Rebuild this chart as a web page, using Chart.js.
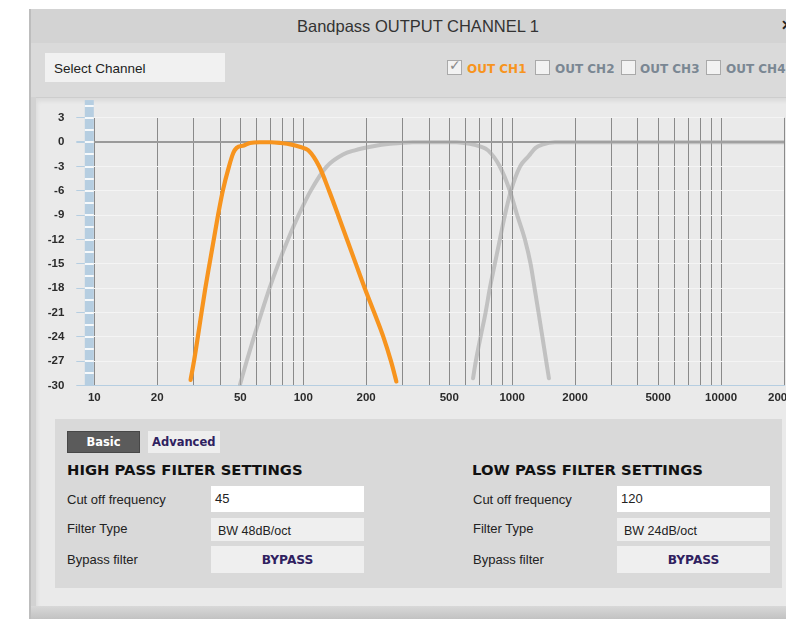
<!DOCTYPE html>
<html><head><meta charset="utf-8">
<script src="https://cdn.jsdelivr.net/npm/chart.js@4/dist/chart.umd.min.js"></script>
<style>
html,body{margin:0;padding:0;width:786px;height:620px;overflow:hidden;background:#fff;font-family:"Liberation Sans",Arial,sans-serif;}
.a{position:absolute;box-sizing:border-box;}
.lbl{font-size:13px;color:#222;}
.box{background:#efefef;font-size:12.5px;color:#222;}
.hd{font-family:"DejaVu Sans",sans-serif;font-weight:bold;font-size:14.8px;color:#111;}
.bp{font-family:"DejaVu Sans",sans-serif;font-weight:bold;font-size:12.2px;color:#2f2160;text-align:center;}
.cb{width:15px;height:15px;border:1px solid #a9a9a9;background:#f2f2f2;}
.cl{font-family:"DejaVu Sans",sans-serif;font-weight:bold;font-size:12px;color:#7a8793;}
</style></head>
<body>
<div class="a" style="left:29px;top:9px;width:800px;height:610px;background:#d2d2d2;border-left:2px solid #bdbdbd;"></div>
<div class="a" style="left:31px;top:9px;width:800px;height:34px;background:#d3d3d3;"></div>
<div class="a" style="left:218px;top:9px;width:400px;height:34px;line-height:34px;text-align:center;font-size:16.5px;color:#333;">Bandpass OUTPUT CHANNEL 1</div>
<div class="a" style="left:781px;top:17px;font-size:14px;font-weight:bold;color:#222;">✕</div>
<div class="a" style="left:31px;top:43px;width:800px;height:54px;background:#dadada;"></div>
<div class="a" style="left:45px;top:53px;width:180px;height:29px;background:#f1f1f1;line-height:32px;padding-left:9px;font-size:13.5px;color:#222;">Select Channel</div>

<div class="a cb" style="left:447px;top:60px;"></div>
<div class="a" style="left:449px;top:57px;font-size:14px;color:#8a8a8a;font-family:'DejaVu Sans';">✓</div>
<div class="a cl" style="left:467px;top:62px;color:#f7941e;">OUT CH1</div>
<div class="a cb" style="left:535px;top:60px;"></div>
<div class="a cl" style="left:555px;top:62px;">OUT CH2</div>
<div class="a cb" style="left:621px;top:60px;"></div>
<div class="a cl" style="left:640px;top:62px;">OUT CH3</div>
<div class="a cb" style="left:706px;top:60px;"></div>
<div class="a cl" style="left:726px;top:62px;">OUT CH4</div>

<div class="a" style="left:36px;top:97px;width:800px;height:510px;background:#eaeaea;border-top:1px solid #cdcdcd;box-shadow:inset 1px 3px 4px rgba(0,0,0,0.07);"></div>
<canvas id="c" width="780" height="310" style="position:absolute;left:36px;top:99px;"></canvas>

<div class="a" style="left:55px;top:419px;width:727px;height:169px;background:#d9d9d9;"></div>
<div class="a" style="left:67px;top:431px;width:73px;height:22px;background:#5b5b5b;border:1px solid #474747;color:#fff;font-family:'DejaVu Sans';font-weight:bold;font-size:11.5px;line-height:20px;text-align:center;">Basic</div>
<div class="a" style="left:148px;top:431px;width:72px;height:22px;background:#eeeeee;color:#2f2160;font-family:'DejaVu Sans';font-weight:bold;font-size:11.5px;line-height:22px;padding-left:4px;">Advanced</div>

<div class="a hd" style="left:67px;top:461px;">HIGH PASS FILTER SETTINGS</div>
<div class="a lbl" style="left:67px;top:492px;">Cut off frequency</div>
<div class="a" style="left:211px;top:486px;width:153px;height:26px;background:#fff;font-size:13px;color:#222;line-height:26px;padding-left:4px;">45</div>
<div class="a lbl" style="left:67px;top:521px;">Filter Type</div>
<div class="a box" style="left:211px;top:518px;width:153px;height:23px;line-height:26px;padding-left:7px;">BW 48dB/oct</div>
<div class="a lbl" style="left:67px;top:552px;">Bypass filter</div>
<div class="a box bp" style="left:211px;top:546px;width:153px;height:27px;line-height:29px;">BYPASS</div>

<div class="a hd" style="left:472px;top:461px;">LOW PASS FILTER SETTINGS</div>
<div class="a lbl" style="left:473px;top:492px;">Cut off frequency</div>
<div class="a" style="left:617px;top:486px;width:153px;height:26px;background:#fff;font-size:13px;color:#222;line-height:26px;padding-left:4px;">120</div>
<div class="a lbl" style="left:473px;top:521px;">Filter Type</div>
<div class="a box" style="left:617px;top:518px;width:153px;height:23px;line-height:26px;padding-left:7px;">BW 24dB/oct</div>
<div class="a lbl" style="left:473px;top:552px;">Bypass filter</div>
<div class="a box bp" style="left:617px;top:546px;width:153px;height:27px;line-height:29px;">BYPASS</div>

<div class="a" style="left:31px;top:606px;width:800px;height:13px;background:linear-gradient(#d8d8d8,#c2c2c2);"></div>

<script>
// ---- data ----
const xGridFreqs = [10,20,30,40,50,60,70,80,90,100,200,300,400,500,600,700,800,900,1000,2000,3000,4000,5000,6000,7000,8000,9000,10000,20000];
const xTickLabels = [10,20,50,100,200,500,1000,2000,5000,10000,20000];
const yTickValues = [3,0,-3,-6,-9,-12,-15,-18,-21,-24,-27,-30];

const ch1Freq = [28.9,30.0,31.3,32.6,34.0,35.6,37.3,39.1,41.2,44.1,46.3,48.0,52.0,55.6,62,70,78,88,97,105.7,119.3,133,147,162,178.6,197,218.6,241.8,263,279];
const ch1Db   = [-29.3,-27,-24,-21,-18,-15,-12,-9,-6,-3,-1.3,-0.7,-0.4,-0.1,0,0,-0.1,-0.3,-0.6,-1,-3,-6,-9,-12,-15,-18,-21,-24,-27,-29.5];

const ch2Freq = [49.8,53.6,58.1,63.2,69.0,76.0,84.5,95.0,108.5,129.4,155,176.5,216,260,334,450,542,628,700,767,873,975,1057,1151,1225,1280,1337,1395,1455,1499];
const ch2Db   = [-29.9,-27,-24,-21,-18,-15,-12,-9,-6,-3,-1.5,-1,-0.5,-0.2,0,0,0,-0.2,-0.5,-1,-3,-6,-9,-12,-15,-18,-21,-24,-27,-29.1];

const ch3Freq = [650,670,706,746,782,826,873,923,986,1090,1200,1295,1393,1600,20000];
const ch3Db   = [-29.1,-27,-24,-21,-18,-15,-12,-9,-6,-3,-1.7,-0.7,-0.3,0,0];

function pts(fs, ds){ return fs.map((f,i)=>({x:f, y:ds[i]})); }

const strip = {
  id:'strip',
  afterDraw(chart){
    const ctx = chart.ctx, y = chart.scales.y, a = chart.chartArea;
    const top = y.getPixelForValue(5.2);
    ctx.save();
    ctx.fillStyle = '#b6cee1';
    ctx.fillRect(a.left-9.5, top, 9, a.bottom-top);
    ctx.fillStyle = '#f6f9fb';
    for (let v = 4.5; v > -30; v -= 1.5) {
      const py = Math.round(y.getPixelForValue(v));
      ctx.fillRect(a.left-9.5, py-1, 9, 2);
    }
    ctx.restore();
  }
};

const base = {pointRadius:0, borderWidth:4, cubicInterpolationMode:'monotone', borderCapStyle:'round', borderJoinStyle:'round', fill:false};
const tickFont = {family:'Liberation Sans', size:11.5, weight:'bold'};

new Chart(document.getElementById('c'), {
  type:'line',
  data:{datasets:[
    Object.assign({label:'OUT CH1', data:pts(ch1Freq,ch1Db), borderColor:'#f7941e'}, base, {borderWidth:4.2}),
    Object.assign({label:'OUT CH2', data:pts(ch2Freq,ch2Db), borderColor:'rgba(165,165,165,0.6)'}, base),
    Object.assign({label:'OUT CH3', data:pts(ch3Freq,ch3Db), borderColor:'rgba(165,165,165,0.6)'}, base)
  ]},
  options:{
    responsive:false, animation:false, events:[],
    layout:{padding:{top:17, right:32, left:0, bottom:0}},
    plugins:{legend:{display:false}, tooltip:{enabled:false}},
    scales:{
      x:{type:'logarithmic', min:10, max:20000,
        afterBuildTicks:s=>{ s.ticks = xGridFreqs.map(v=>({value:v})); },
        afterFit:s=>{ s.height = 23.5; },
        ticks:{autoSkip:false, maxRotation:0, minRotation:0, padding:5, color:'#2b2b2b', font:tickFont,
          callback:v=> xTickLabels.includes(v) ? String(v) : ''},
        grid:{color:'#8a8a8a', lineWidth:1, drawTicks:false},
        border:{color:'#b6cee1', width:1}
      },
      y:{type:'linear', min:-30, max:3,
        afterBuildTicks:s=>{ s.ticks = yTickValues.map(v=>({value:v})); },
        afterFit:s=>{ s.width = 58.3; },
        ticks:{padding:12, color:'#2b2b2b', font:tickFont, callback:v=>String(v)},
        grid:{
          color:c=> c.tick && c.tick.value===0 ? '#9a9a9a' : (c.tick && c.tick.value===-30 ? '#b6cee1' : '#f4f4f4'),
          lineWidth:c=> c.tick && c.tick.value===0 ? 2 : 1,
          tickColor:'#b6cee1', tickLength:18, drawTicks:true},
        border:{display:false}
      }
    }
  },
  plugins:[strip]
});
</script>
</body></html>
